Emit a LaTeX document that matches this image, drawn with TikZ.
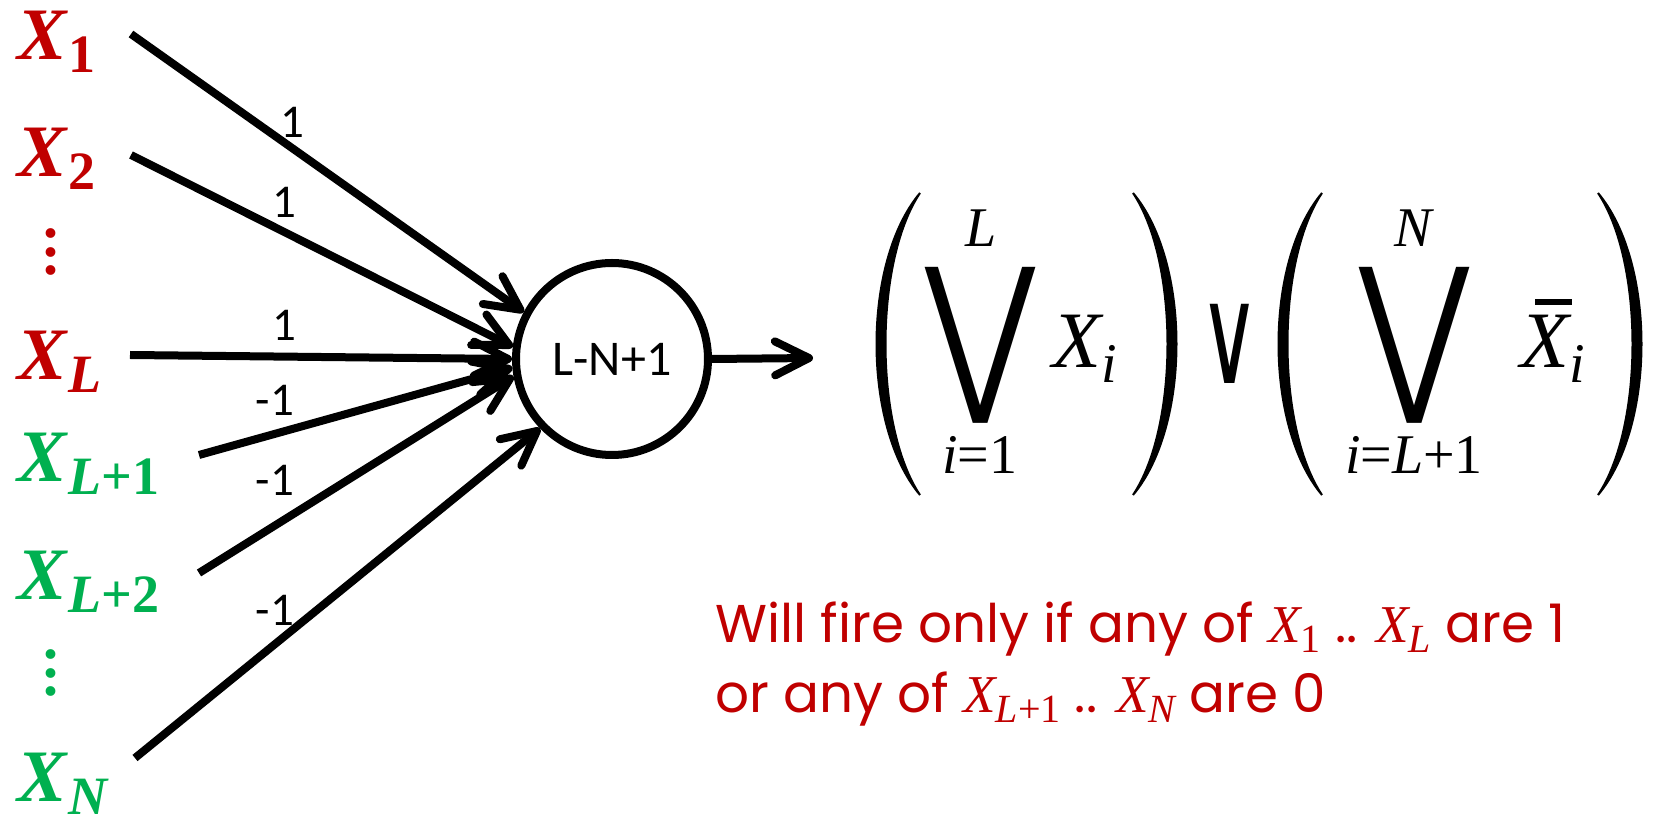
\documentclass[tikz,border=0pt]{standalone}
\usepackage{fontspec}
\usepackage{graphicx}
\setmainfont{Liberation Serif}
\newfontfamily\calfont{Carlito}
\newfontfamily\comicfont{Poppins}
\newfontfamily\djv{DejaVu Sans}
\usetikzlibrary{arrows.meta}
\definecolor{myred}{RGB}{192,0,0}
\definecolor{mygreen}{RGB}{0,176,80}
\newcommand\XLab[1]{{\fontsize{37pt}{37pt}\selectfont\bfseries\itshape X}\kern1pt\raisebox{-6.5pt}{\fontsize{27pt}{27pt}\selectfont\bfseries #1}}
\newcommand\tX[1]{{\rmfamily\itshape X}\raisebox{-5pt}{\fontsize{20pt}{20pt}\selectfont\rmfamily #1}}
\newcommand\vdts{\vbox{\baselineskip=9.25pt\lineskiplimit=-20pt\hbox{.}\hbox{.}\hbox{.}}}
\tikzset{
  xlab/.style={anchor=base west, inner sep=0pt},
  dts/.style={inner sep=0pt, font=\fontsize{30pt}{30pt}\selectfont\bfseries},
  wlab/.style={inner sep=0pt, font=\calfont\fontsize{23.5pt}{24pt}\selectfont},
  neuron/.style={circle, draw, line width=4pt, minimum size=96pt, inner sep=0pt, font=\calfont\fontsize{25pt}{25pt}\selectfont},
  arr/.style={line width=4pt, -{Straight Barb[length=17pt,width=17pt,round]}},
  lim/.style={inner sep=0pt, font=\fontsize{28pt}{28pt}\selectfont},
  par/.style={fill=black, draw=black, line width=1pt},
  note/.style={anchor=base west, inner sep=0pt, text=myred, font=\comicfont\fontsize{26.6pt}{26.6pt}\selectfont}
}
\begin{document}
\begin{tikzpicture}[x=0.5pt, y=-0.5pt]
\fill[white] (0,0) rectangle (1656,817);
\useasboundingbox (0,0) rectangle (1656,817);

% input labels
\node[xlab, text=myred] (x1) at (17,60) {\XLab{1}};
\node[xlab, text=myred] (x2) at (17,177) {\XLab{2}};
\node[dts, text=myred] (rd) at (51,252) {\vdts};
\node[xlab, text=myred] (xl) at (17,380) {\XLab{\itshape L}};
\node[xlab, text=mygreen] (xl1) at (17,482) {\XLab{{\itshape L}+1}};
\node[xlab, text=mygreen] (xl2) at (17,600) {\XLab{{\itshape L}+2}};
\node[dts, text=mygreen] (gd) at (51,673) {\vdts};
\node[xlab, text=mygreen] (xn) at (17,802) {\XLab{\itshape N}};

% neuron
\node[neuron] (n) at (612,359) {L-N+1};

% start points
\coordinate (s1) at (131,34);
\coordinate (s2) at (131,155);
\coordinate (sl) at (130,355);
\coordinate (sl1) at (199,455);
\coordinate (sl2) at (199,573);
\coordinate (sn) at (135,758);

\draw[arr] (s1) -- (n.152);
\draw[arr] (s2) -- (n.173);
\draw[arr] (sl) -- (n.180);
\draw[arr] (sl1) -- (n.185);
\draw[arr] (sl2) -- (n.190);
\draw[arr] (sn) -- (n.224);

% weights
\node[wlab] (w1) at (292,122) {1};
\node[wlab] (w2) at (284,202) {1};
\node[wlab] (w3) at (284,325) {1};
\node[wlab] (w4) at (275,400) {-1};
\node[wlab] (w5) at (275,480) {-1};
\node[wlab] (w6) at (275,610) {-1};

% output
\coordinate (out) at (813,358);
\draw[arr] (n.east) -- (out);

% formula: parentheses
\draw[par] (920,193) .. controls (862,262) and (862,426) .. (920,495)
  .. controls (874,426) and (874,262) .. (920,193) -- cycle;
\draw[par] (1133,193) .. controls (1191,262) and (1191,426) .. (1133,495)
  .. controls (1179,426) and (1179,262) .. (1133,193) -- cycle;
\draw[par] (1322,193) .. controls (1264,262) and (1264,426) .. (1322,495)
  .. controls (1276,426) and (1276,262) .. (1322,193) -- cycle;
\draw[par] (1598,193) .. controls (1656,262) and (1656,426) .. (1598,495)
  .. controls (1644,426) and (1644,262) .. (1598,193) -- cycle;

% big operators
\node[inner sep=0pt] (bv1) at (980,345) {\resizebox*{55pt}{78pt}{\djv ⋁}};
\node[inner sep=0pt] (bv2) at (1414,345) {\resizebox*{55pt}{78pt}{\djv ⋁}};
\node[lim] (u1) at (981,228) {\itshape L};
\node[lim] (d1) at (980,455) {{\itshape i}=1};
\node[lim] (u2) at (1413,228) {\itshape N};
\node[lim] (d2) at (1414,455) {{\itshape i}={\itshape L}+1};
\node[anchor=base west, inner sep=0pt, font=\fontsize{40pt}{40pt}\selectfont] (xi) at (1052,368) {{\itshape X}\raisebox{-7.5pt}{\fontsize{28pt}{28pt}\selectfont\itshape i}};
\node[inner sep=0pt] (or) at (1230,344) {\scalebox{1.15}[1.9]{\djv\fontsize{36pt}{36pt}\selectfont ∨}};
\node[anchor=base west, inner sep=0pt, font=\fontsize{40pt}{40pt}\selectfont] (xbi) at (1520,368) {{\itshape X}\raisebox{-7.5pt}{\fontsize{28pt}{28pt}\selectfont\itshape i}};
\draw[line width=2.6pt] (1535,302) -- (1572,302);

% note
\node[note] (t1) at (715,643) {Will fire only if any of \tX{1} .. \tX{\itshape L} are 1};
\node[note] (t2) at (715,713) {or any of \tX{{\itshape L}+1} .. \tX{\itshape N} are 0};
\end{tikzpicture}
\end{document}
